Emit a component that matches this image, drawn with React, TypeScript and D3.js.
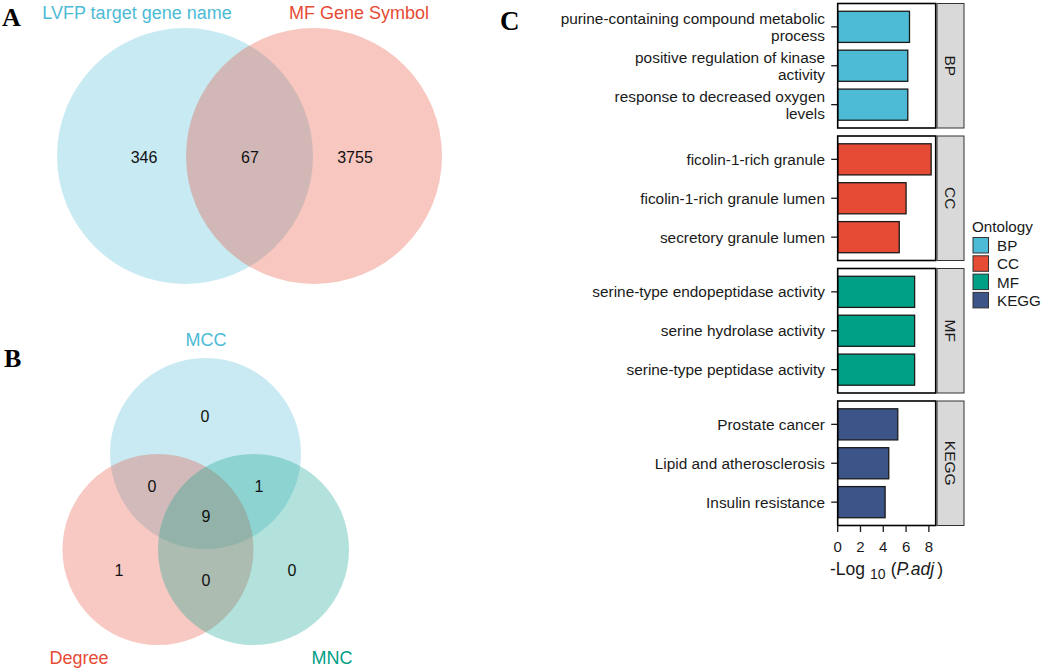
import React from 'react';
import * as d3 from 'd3';

// Panel A: two-set Venn
const vennASets = ['LVFP target gene name', 'MF Gene Symbol'];
const vennACounts = [346, 67, 3755]; // left only, both, right only

// Panel B: three-set Venn
const vennBSets = ['MCC', 'Degree', 'MNC'];
// MCC only, MCC&Degree, MCC&MNC, all, Degree only, Degree&MNC, MNC only
const vennBCounts = [0, 0, 1, 9, 1, 0, 0];

// Panel C: enrichment bars
const ontologies = ['BP', 'CC', 'MF', 'KEGG'];
const ontologyColors = ['#4DBBD5', '#E64B35', '#00A087', '#3C5488'];
const terms = [
  'purine-containing compound metabolic\nprocess',
  'positive regulation of kinase\nactivity',
  'response to decreased oxygen\nlevels',
  'ficolin-1-rich granule',
  'ficolin-1-rich granule lumen',
  'secretory granule lumen',
  'serine-type endopeptidase activity',
  'serine hydrolase activity',
  'serine-type peptidase activity',
  'Prostate cancer',
  'Lipid and atherosclerosis',
  'Insulin resistance',
];
const termOntology = ['BP', 'BP', 'BP', 'CC', 'CC', 'CC', 'MF', 'MF', 'MF', 'KEGG', 'KEGG', 'KEGG'];
const negLogPadj = [6.3, 6.15, 6.15, 8.2, 6.0, 5.4, 6.75, 6.75, 6.75, 5.27, 4.48, 4.16];
const xTicks = [0, 2, 4, 6, 8];

const FONT = '"Liberation Sans", Arial, Helvetica, sans-serif';
const SERIF = '"Liberation Serif", "Times New Roman", serif';

const VennA = () => {
  const r = 128;
  const cy = 156;
  const cx = d3.scaleLinear().domain([0, 1]).range([185, 314]);
  const colors = [ontologyColors[0], ontologyColors[1]];
  const titleColors = ['#4DBBD5', '#E64B35'];
  const labelX = [144, 250, 355];
  return (
    <g>
      {vennASets.map((s, i) => (
        <circle key={s} cx={cx(i)} cy={cy} r={r} fill={colors[i]} fillOpacity={0.31} />
      ))}
      <text x={137} y={13} textAnchor="middle" dominantBaseline="central" fill={titleColors[0]} fontSize={18}>
        {vennASets[0]}
      </text>
      <text x={359} y={13} textAnchor="middle" dominantBaseline="central" fill={titleColors[1]} fontSize={18}>
        {vennASets[1]}
      </text>
      {vennACounts.map((c, i) => (
        <text key={i} x={labelX[i]} y={157} textAnchor="middle" dominantBaseline="central" fontSize={16} fill="#111">
          {c}
        </text>
      ))}
    </g>
  );
};

const VennB = () => {
  const r = 95.5;
  const centers = [
    [205.5, 453.5],
    [158, 549.5],
    [253.5, 549.5],
  ];
  const colors = ['#4DBBD5', '#E64B35', '#00A087'];
  const labelPos = [
    [206, 340],
    [79, 658],
    [332, 658],
  ];
  const countPos = [
    [205, 416],
    [152, 486],
    [259, 486],
    [206, 516],
    [119, 570],
    [206, 580],
    [292, 570],
  ];
  return (
    <g>
      {vennBSets.map((s, i) => (
        <circle key={s} cx={centers[i][0]} cy={centers[i][1]} r={r} fill={colors[i]} fillOpacity={0.3} />
      ))}
      {vennBSets.map((s, i) => (
        <text key={s} x={labelPos[i][0]} y={labelPos[i][1]} textAnchor="middle" dominantBaseline="central" fontSize={18} fill={colors[i]}>
          {s}
        </text>
      ))}
      {vennBCounts.map((c, i) => (
        <text key={i} x={countPos[i][0]} y={countPos[i][1]} textAnchor="middle" dominantBaseline="central" fontSize={16} fill="#111">
          {c}
        </text>
      ))}
    </g>
  );
};

const BarPanel = () => {
  const panelLeft = 837.7;
  const panelRight = 935.7;
  const panelTop0 = 3.5;
  const panelH = 124.5;
  const gap = 8;
  const stripW = 27;
  const x = d3.scaleLinear().domain([0, 8.6]).range([panelLeft, panelRight]);
  const panelTop = (i: number) => panelTop0 + i * (panelH + gap);
  const bottom = panelTop(ontologies.length - 1) + panelH;

  return (
    <g fontFamily={FONT}>
      {ontologies.map((ont, oi) => {
        const idx = terms.map((_, i) => i).filter((i) => termOntology[i] === ont);
        const y = d3
          .scaleBand<number>()
          .domain(idx)
          .range([panelTop(oi), panelTop(oi) + panelH])
          .paddingInner(0.2)
          .paddingOuter(0.2);
        const color = ontologyColors[oi];
        return (
          <g key={ont}>
            <rect x={panelLeft} y={panelTop(oi)} width={panelRight - panelLeft} height={panelH} fill="#fff" />
            {idx.map((i) => {
              const yc = (y(i) as number) + y.bandwidth() / 2;
              const lines = terms[i].split('\n');
              const lh = 16.7;
              return (
                <g key={i}>
                  <rect
                    x={x(0)}
                    y={y(i)}
                    width={x(negLogPadj[i]) - x(0)}
                    height={y.bandwidth()}
                    fill={color}
                    stroke="#1a1a1a"
                    strokeWidth={1.3}
                  />
                  <line x1={panelLeft - 6.5} x2={panelLeft} y1={yc} y2={yc} stroke="#1a1a1a" strokeWidth={1.3} />
                  {lines.map((ln, li) => (
                    <text
                      key={li}
                      x={825}
                      y={yc + (li - (lines.length - 1) / 2) * lh}
                      textAnchor="end"
                      dominantBaseline="central"
                      fontSize={15.4}
                      fill="#1a1a1a"
                    >
                      {ln}
                    </text>
                  ))}
                </g>
              );
            })}
            <rect
              x={panelLeft}
              y={panelTop(oi)}
              width={panelRight - panelLeft}
              height={panelH}
              fill="none"
              stroke="#000"
              strokeWidth={1.6}
            />
            <rect
              x={panelRight + 1.3}
              y={panelTop(oi)}
              width={stripW}
              height={panelH}
              fill="#D9D9D9"
              stroke="#333"
              strokeWidth={1}
            />
            <text
              transform={`translate(${panelRight + 1.3 + stripW / 2},${panelTop(oi) + panelH / 2}) rotate(90)`}
              textAnchor="middle"
              dominantBaseline="central"
              fontSize={15.5}
              fill="#1a1a1a"
            >
              {ont}
            </text>
          </g>
        );
      })}
      {/* x axis */}
      {xTicks.map((t) => (
        <g key={t}>
          <line x1={x(t)} x2={x(t)} y1={bottom} y2={bottom + 6.5} stroke="#1a1a1a" strokeWidth={1.3} />
          <text x={x(t)} y={bottom + 21} textAnchor="middle" dominantBaseline="central" fontSize={15} fill="#1a1a1a">
            {t}
          </text>
        </g>
      ))}
      <text x={886.5} y={bottom + 43} textAnchor="middle" dominantBaseline="central" fontSize={17.5} fill="#1a1a1a">
        -Log
        <tspan dx={5} dy={5} fontSize={14}>10</tspan>
        <tspan dx={5} dy={-5}>(</tspan>
        <tspan fontStyle="italic">P.adj</tspan>
        <tspan dx={3}>)</tspan>
      </text>
      {/* legend */}
      <text x={972} y={226} dominantBaseline="central" fontSize={15.2} fill="#1a1a1a">
        Ontology
      </text>
      {ontologies.map((ont, i) => (
        <g key={ont}>
          <rect x={973} y={237.5 + i * 18.3} width={15.5} height={15.5} fill={ontologyColors[i]} stroke="#333" strokeWidth={1} />
          <text x={997} y={237.5 + i * 18.3 + 8} dominantBaseline="central" fontSize={15.2} fill="#1a1a1a">
            {ont}
          </text>
        </g>
      ))}
    </g>
  );
};

export default function App() {
  return (
    <svg
      width={1052}
      height={670}
      viewBox="0 0 1052 670"
      style={{ position: 'absolute', left: 0, top: 0, background: '#fff' }}
      fontFamily={FONT}
    >
      <rect width={1052} height={670} fill="#fff" />
      <VennA />
      <VennB />
      <BarPanel />
      <text x={2} y={26} fontFamily={SERIF} fontWeight="bold" fontSize={26} fill="#000">A</text>
      <text x={4} y={367} fontFamily={SERIF} fontWeight="bold" fontSize={26} fill="#000">B</text>
      <text x={500} y={30} fontFamily={SERIF} fontWeight="bold" fontSize={27} fill="#000">C</text>
    </svg>
  );
}
